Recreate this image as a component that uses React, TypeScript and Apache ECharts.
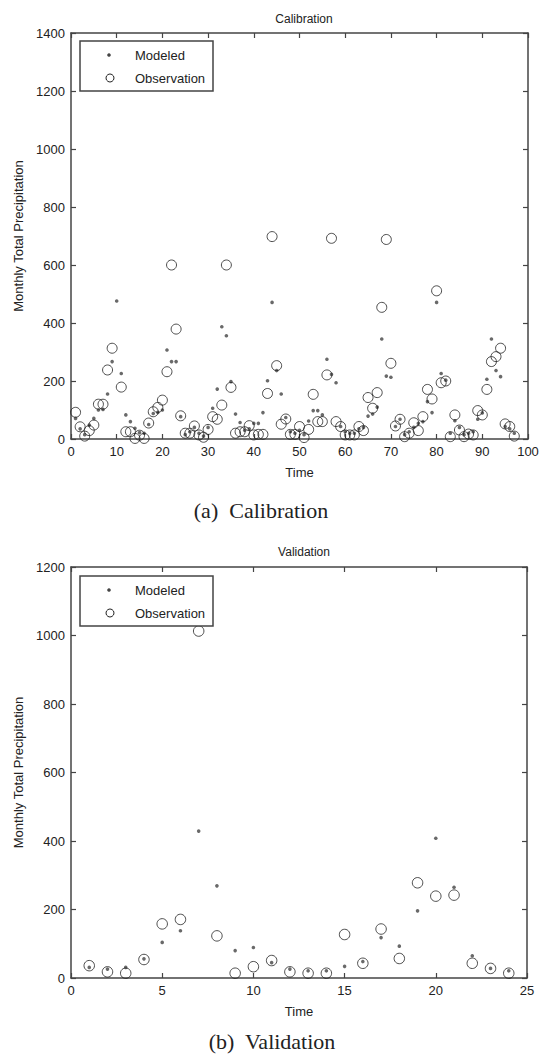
import React, { useEffect, useRef } from "react";
import * as echarts from "echarts";

// ---- Calibration (months 1..97) ----
const calObserved: (number | string)[] = [
  92, 42, 10, 29, 48, 120, 120, 238, 313, "-", 179, 25, 25, 2, 13, 2, 55, 94, 109, 134,
  232, 600, 379, 80, 20, 20, 45, 14, 6, 33, 77, 68, 117, 600, 178, 20, 25, 25, 46, 14,
  16, 16, 157, 698, 253, 51, 69, 16, 16, 43, 5, 33, 154, 60, 60, 221, 692, 60, 43, 14,
  14, 14, 43, 29, 143, 106, 160, 454, 688, 261, 45, 68, 8, 20, 56, 29, 77, 171, 138, 511,
  194, 200, 8, 83, 31, 8, 17, 14, 98, 83, 171, 267, 284, 313, 52, 43, 10,
];
const calModeled: number[] = [
  71, 35, 15, 48, 71, 100, 102, 155, 267, 476, 226, 83, 60, 37, 22, 20, 50, 88, 92, 100,
  307, 267, 267, 77, 15, 25, 40, 20, 10, 40, 106, 172, 387, 356, 198, 86, 57, 30, 35, 54,
  54, 91, 201, 471, 236, 155, 74, 25, 20, 30, 15, 62, 98, 98, 83, 275, 223, 194, 43, 25,
  20, 20, 35, 40, 79, 86, 110, 345, 217, 213, 43, 68, 15, 25, 40, 54, 60, 129, 91, 471,
  226, 203, 20, 63, 40, 15, 20, 25, 68, 90, 206, 345, 236, 215, 43, 35, 20,
];

// ---- Validation (months 1..24) ----
const valObserved: number[] = [
  36, 18, 14, 54, 158, 171, 1013, 123, 14, 33, 51, 18, 14, 14, 127, 43, 143, 57, 278, 239,
  242, 43, 28, 14,
];
const valModeled: number[] = [
  31, 26, 31, 56, 104, 138, 429, 269, 80, 89, 45, 26, 21, 21, 34, 48, 118, 93, 196, 408,
  265, 65, 28, 21,
];

const calXTicks = { min: 0, max: 100, interval: 10 };
const calYTicks = { min: 0, max: 1400, interval: 200 };
const valXTicks = { min: 0, max: 25, interval: 5 };
const valYTicks = { min: 0, max: 1200, interval: 200 };

const FONT = "'Liberation Sans', Arial, sans-serif";
const SERIF = "'Liberation Serif', 'DejaVu Serif', serif";
const AXIS_COLOR = "#444";
const TEXT_COLOR = "#222";

const toPoints = (arr: (number | string)[]) =>
  arr.map((v, i) => [i + 1, v]).filter((p) => p[1] !== "-");

function axis(
  pos: string,
  gridIndex: number,
  ticks: { min: number; max: number; interval: number },
  showLabel: boolean,
  name?: string,
  nameGap?: number
) {
  return {
    type: "value",
    gridIndex,
    position: pos,
    min: ticks.min,
    max: ticks.max,
    interval: ticks.interval,
    name: name || "",
    nameLocation: "middle",
    nameGap: nameGap || 0,
    nameTextStyle: { fontFamily: FONT, fontSize: 13, color: TEXT_COLOR },
    axisLine: { show: true, onZero: false, lineStyle: { color: AXIS_COLOR, width: 1.5 } },
    axisTick: { show: true, inside: true, length: 5, lineStyle: { color: AXIS_COLOR, width: 1.2 } },
    axisLabel: {
      show: showLabel,
      fontFamily: FONT,
      fontSize: 13,
      color: TEXT_COLOR,
      margin: 6,
      formatter: (v: number) => String(v),
    },
    splitLine: { show: false },
  };
}

function legendGraphic(top: number) {
  return [
    {
      type: "rect",
      shape: { x: 80, y: top, width: 133, height: 50 },
      style: { fill: "#fff", stroke: AXIS_COLOR, lineWidth: 1.5 },
      z: 100,
    },
    {
      type: "circle",
      shape: { cx: 109, cy: top + 14, r: 1.8 },
      style: { fill: "#444" },
      z: 101,
    },
    {
      type: "circle",
      shape: { cx: 110, cy: top + 37, r: 4 },
      style: { fill: "none", stroke: "#222", lineWidth: 1 },
      z: 101,
    },
    {
      type: "text",
      x: 135,
      y: top + 14,
      style: { text: "Modeled", font: `13px ${FONT}`, fill: TEXT_COLOR, verticalAlign: "middle" },
      z: 101,
    },
    {
      type: "text",
      x: 135,
      y: top + 37,
      style: { text: "Observation", font: `13px ${FONT}`, fill: TEXT_COLOR, verticalAlign: "middle" },
      z: 101,
    },
  ];
}

export default function App() {
  const ref = useRef<HTMLDivElement>(null);

  useEffect(() => {
    document.body.style.margin = "0";
    if (!ref.current) return;
    const chart = echarts.init(ref.current, null, { renderer: "svg" });

    const obsStyle = { color: "rgba(0,0,0,0)", borderColor: "#222", borderWidth: 1 };
    const modStyle = { color: "#444" };

    chart.setOption({
      animation: false,
      backgroundColor: "#fff",
      title: [
        {
          text: "Calibration",
          left: 299,
          top: 8,
          textAlign: "center",
          textStyle: { fontFamily: FONT, fontSize: 12, fontWeight: "normal", color: TEXT_COLOR },
        },
        {
          text: "Validation",
          left: 299,
          top: 541,
          textAlign: "center",
          textStyle: { fontFamily: FONT, fontSize: 12, fontWeight: "normal", color: TEXT_COLOR },
        },
      ],
      grid: [
        { left: 71, top: 33, width: 457, height: 406 },
        { left: 71, top: 567, width: 456, height: 411 },
      ],
      xAxis: [
        axis("bottom", 0, calXTicks, true, "Time", 27),
        axis("top", 0, calXTicks, false),
        axis("bottom", 1, valXTicks, true, "Time", 27),
        axis("top", 1, valXTicks, false),
      ],
      yAxis: [
        axis("left", 0, calYTicks, true, "Monthly Total Precipitation", 41),
        axis("right", 0, calYTicks, false),
        axis("left", 1, valYTicks, true, "Monthly Total Precipitation", 41),
        axis("right", 1, valYTicks, false),
      ],
      series: [
        {
          name: "Modeled",
          type: "scatter",
          xAxisIndex: 0,
          yAxisIndex: 0,
          symbol: "circle",
          symbolSize: 3.6,
          itemStyle: modStyle,
          data: toPoints(calModeled),
        },
        {
          name: "Observation",
          type: "scatter",
          xAxisIndex: 0,
          yAxisIndex: 0,
          symbol: "circle",
          symbolSize: 10,
          itemStyle: obsStyle,
          data: toPoints(calObserved),
        },
        {
          name: "Modeled",
          type: "scatter",
          xAxisIndex: 2,
          yAxisIndex: 2,
          symbol: "circle",
          symbolSize: 3.6,
          itemStyle: modStyle,
          data: toPoints(valModeled),
        },
        {
          name: "Observation",
          type: "scatter",
          xAxisIndex: 2,
          yAxisIndex: 2,
          symbol: "circle",
          symbolSize: 10.5,
          itemStyle: obsStyle,
          data: toPoints(valObserved),
        },
      ],
      graphic: [
        ...legendGraphic(41),
        ...legendGraphic(576),
        {
          type: "text",
          x: 261,
          y: 510,
          style: {
            text: "(a)  Calibration",
            font: `22px ${SERIF}`,
            fill: "#222",
            align: "center",
            verticalAlign: "middle",
          },
        },
        {
          type: "text",
          x: 272,
          y: 1041,
          style: {
            text: "(b)  Validation",
            font: `22px ${SERIF}`,
            fill: "#222",
            align: "center",
            verticalAlign: "middle",
          },
        },
      ],
    });

    return () => chart.dispose();
  }, []);

  return <div ref={ref} style={{ width: 545, height: 1056 }} />;
}
